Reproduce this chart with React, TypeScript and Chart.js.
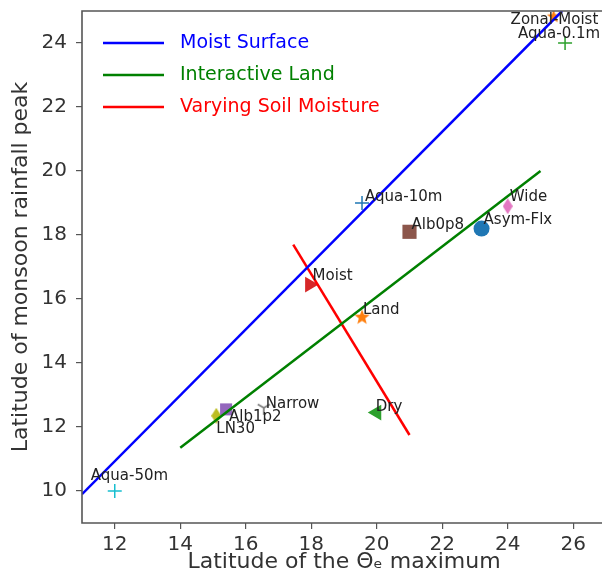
import React, { useEffect, useRef } from 'react';
import { Chart, registerables } from 'chart.js';

Chart.register(...registerables);

// ---------------- data ----------------
const caseNames = [
  'Aqua-50m', 'LN30', 'Alb1p2', 'Narrow', 'Dry', 'Land', 'Moist',
  'Aqua-10m', 'Alb0p8', 'Asym-Flx', 'Wide', 'Zonal-Moist', 'Aqua-0.1m',
];
const thetaMaxLat = [12.0, 15.1, 15.4, 16.55, 20.0, 19.55, 17.95, 19.55, 21.0, 23.2, 24.0, 25.4, 25.75];
const rainPeakLat = [10.0, 12.35, 12.55, 12.6, 12.45, 15.45, 16.45, 19.0, 18.1, 18.2, 18.9, 24.85, 24.0];

const lineLabels = ['Moist Surface', 'Interactive Land', 'Varying Soil Moisture'];
const moistSurfaceX = [11.0, 25.66];
const moistSurfaceY = [9.9, 25.0];
const interactiveLandX = [14.0, 25.0];
const interactiveLandY = [11.35, 20.0];
const soilMoistureX = [17.45, 21.0];
const soilMoistureY = [17.7, 11.75];

const xTickValues = [12, 14, 16, 18, 20, 22, 24, 26];
const yTickValues = [10, 12, 14, 16, 18, 20, 22, 24];
const xRange = [11, 27];
const yRange = [9, 25];

const xTitle = 'Latitude of the \u0398\u2091 maximum';
const yTitle = 'Latitude of monsoon rainfall peak';

// ---------------- style ----------------
const FONT = '"DejaVu Sans", "Liberation Sans", sans-serif';
const lineColors = ['#0000ff', '#008000', '#ff0000'];
const spineColor = '#555555';
const textColor = '#333333';

// marker style per case (same order as caseNames)
const markerColors = [
  '#17becf', '#bcbd22', '#9467bd', '#7f7f7f', '#2ca02c', '#ff7f0e', '#d62728',
  '#1f77b4', '#8c564b', '#1f77b4', '#e377c2', '#ff7f0e', '#2ca02c',
];
const markerKinds = [
  'cross', 'thinDiamond', 'rect', 'tri', 'triangle', 'star', 'triangle',
  'cross', 'rect', 'circle', 'thinDiamond', 'star', 'cross',
];
const markerRadius = [7, 8, 8.5, 8, 9, 8, 9, 7, 10, 8, 8, 7, 7];
const markerRotation = [0, 0, 0, 0, 270, 0, 90, 0, 0, 0, 0, 0, 0];

// pixel offsets of each text label (left edge, vertical middle) from its marker
const labelOffsets: Record<string, [number, number]> = {
  'Aqua-50m': [-24, -15],
  'LN30': [0, 13],
  'Alb1p2': [3, 8],
  'Narrow': [2, -4],
  'Dry': [-1, -5],
  'Land': [1, -6],
  'Moist': [3, -8],
  'Aqua-10m': [3, -6],
  'Alb0p8': [2, -7],
  'Asym-Flx': [2, -8],
  'Wide': [2, -9],
  'Zonal-Moist': [-43, 4],
  'Aqua-0.1m': [-47, -9],
};

function makeThinDiamond(color: string, w: number, h: number) {
  const c = document.createElement('canvas');
  c.width = w;
  c.height = h;
  const ctx = c.getContext('2d')!;
  ctx.beginPath();
  ctx.moveTo(w / 2, 0);
  ctx.lineTo(w, h / 2);
  ctx.lineTo(w / 2, h);
  ctx.lineTo(0, h / 2);
  ctx.closePath();
  ctx.fillStyle = color;
  ctx.fill();
  return c;
}

function makeStar(color: string, size: number) {
  const c = document.createElement('canvas');
  c.width = size;
  c.height = size;
  const ctx = c.getContext('2d')!;
  const cx = size / 2;
  const cy = size / 2 + 0.8;
  const R = size / 2;
  const r = R * 0.42;
  ctx.beginPath();
  for (let i = 0; i < 10; i++) {
    const a = -Math.PI / 2 + (i * Math.PI) / 5;
    const rr = i % 2 ? r : R;
    ctx.lineTo(cx + rr * Math.cos(a), cy + rr * Math.sin(a));
  }
  ctx.closePath();
  ctx.fillStyle = color;
  ctx.fill();
  return c;
}

function makeTri(color: string, size: number) {
  const c = document.createElement('canvas');
  c.width = size;
  c.height = size;
  const ctx = c.getContext('2d')!;
  const cx = size / 2;
  const cy = size / 2;
  const R = size / 2 - 1;
  ctx.strokeStyle = color;
  ctx.lineWidth = 1.8;
  ctx.beginPath();
  [90, 210, 330].forEach((deg) => {
    const a = (deg * Math.PI) / 180;
    ctx.moveTo(cx, cy);
    ctx.lineTo(cx + R * Math.cos(a), cy + R * Math.sin(a));
  });
  ctx.stroke();
  return c;
}

function markerStyle(i: number): any {
  const kind = markerKinds[i];
  const col = markerColors[i];
  const r = markerRadius[i];
  if (kind === 'thinDiamond') return makeThinDiamond(col, Math.round(r * 1.25), Math.round(r * 2));
  if (kind === 'star') return makeStar(col, Math.round(r * 2));
  if (kind === 'tri') return makeTri(col, Math.round(r * 2));
  return kind;
}

const spinesAndLegend = {
  id: 'spinesAndLegend',
  afterDatasetsDraw(chart: any) {
    const { ctx, chartArea } = chart;
    const { left, right, top, bottom } = chartArea;
    ctx.save();
    // spines (left, top, bottom; the right one lies beyond the visible page)
    ctx.strokeStyle = spineColor;
    ctx.lineWidth = 1.6;
    ctx.beginPath();
    ctx.moveTo(right, top);
    ctx.lineTo(left, top);
    ctx.lineTo(left, bottom);
    ctx.lineTo(right, bottom);
    ctx.stroke();

    // point labels
    const meta = chart.getDatasetMeta(3);
    ctx.font = `15px ${FONT}`;
    ctx.fillStyle = '#222222';
    ctx.textAlign = 'left';
    ctx.textBaseline = 'middle';
    meta.data.forEach((el: any, i: number) => {
      const name = caseNames[i];
      const off = labelOffsets[name] || [2, -7];
      ctx.fillText(name, el.x + off[0], el.y + off[1]);
    });

    // legend
    ctx.font = `19px ${FONT}`;
    ctx.lineWidth = 2.5;
    lineLabels.forEach((lab, i) => {
      const y = top + 32 + i * 32;
      ctx.strokeStyle = lineColors[i];
      ctx.beginPath();
      ctx.moveTo(left + 21, y);
      ctx.lineTo(left + 82, y);
      ctx.stroke();
      ctx.fillStyle = lineColors[i];
      ctx.fillText(lab, left + 98, y);
    });
    ctx.restore();
  },
};

const zeroPadding = (s: any) => {
  s.paddingTop = 0;
  s.paddingBottom = 0;
  s.paddingLeft = 0;
  s.paddingRight = 0;
};

export default function App() {
  const ref = useRef<HTMLCanvasElement | null>(null);

  useEffect(() => {
    if (!ref.current) return;
    const toPts = (xs: number[], ys: number[]) => xs.map((x, i) => ({ x, y: ys[i] }));
    const lineSets = [
      toPts(moistSurfaceX, moistSurfaceY),
      toPts(interactiveLandX, interactiveLandY),
      toPts(soilMoistureX, soilMoistureY),
    ];
    const chart = new Chart(ref.current, {
      type: 'scatter',
      data: {
        datasets: [
          ...lineSets.map((d, i) => ({
            label: lineLabels[i],
            data: d,
            showLine: true,
            borderColor: lineColors[i],
            backgroundColor: lineColors[i],
            borderWidth: 2.5,
            pointRadius: 0,
          })),
          {
            label: 'cases',
            data: caseNames.map((_, i) => ({ x: thetaMaxLat[i], y: rainPeakLat[i] })),
            showLine: false,
            pointStyle: caseNames.map((_, i) => markerStyle(i)),
            pointRadius: markerRadius,
            pointRotation: markerRotation,
            pointBackgroundColor: markerColors,
            pointBorderColor: markerColors,
            pointBorderWidth: caseNames.map((_, i) => (markerKinds[i] === 'cross' ? 1.5 : 0)),
          } as any,
        ],
      },
      options: {
        responsive: false,
        animation: false,
        devicePixelRatio: 1,
        events: [],
        layout: { padding: { top: 11, right: 14, left: 0, bottom: 0 } },
        plugins: {
          legend: { display: false },
          tooltip: { enabled: false },
        },
        scales: {
          x: {
            type: 'linear',
            min: xRange[0],
            max: xRange[1],
            afterBuildTicks: (s: any) => {
              s.ticks = xTickValues.map((v) => ({ value: v }));
            },
            afterFit: (s: any) => {
              s.height = 62;
              zeroPadding(s);
            },
            grid: { display: true, drawOnChartArea: false, drawTicks: true, tickLength: 6, color: spineColor, lineWidth: 1.2 },
            border: { display: false },
            ticks: { color: textColor, font: { family: FONT, size: 20 }, padding: 4, maxRotation: 0 },
            title: { display: true, text: xTitle, color: textColor, font: { family: FONT, size: 22 }, padding: { top: 0, bottom: 10 } },
          },
          y: {
            type: 'linear',
            min: yRange[0],
            max: yRange[1],
            afterBuildTicks: (s: any) => {
              s.ticks = yTickValues.map((v) => ({ value: v }));
            },
            afterFit: (s: any) => {
              s.width = 82;
              zeroPadding(s);
            },
            grid: { display: true, drawOnChartArea: false, drawTicks: true, tickLength: 6, color: spineColor, lineWidth: 1.2 },
            border: { display: false },
            ticks: { color: textColor, font: { family: FONT, size: 20 }, padding: 9 },
            title: { display: true, text: yTitle, color: textColor, font: { family: FONT, size: 22 }, padding: { top: 8, bottom: 0 } },
          },
        },
      } as any,
      plugins: [spinesAndLegend],
    });
    return () => chart.destroy();
  }, []);

  return (
    <div style={{ position: 'fixed', left: 0, top: 0, width: 602, height: 585, overflow: 'hidden', background: '#ffffff' }}>
      <canvas ref={ref} width={620} height={585} style={{ display: 'block' }} />
    </div>
  );
}
